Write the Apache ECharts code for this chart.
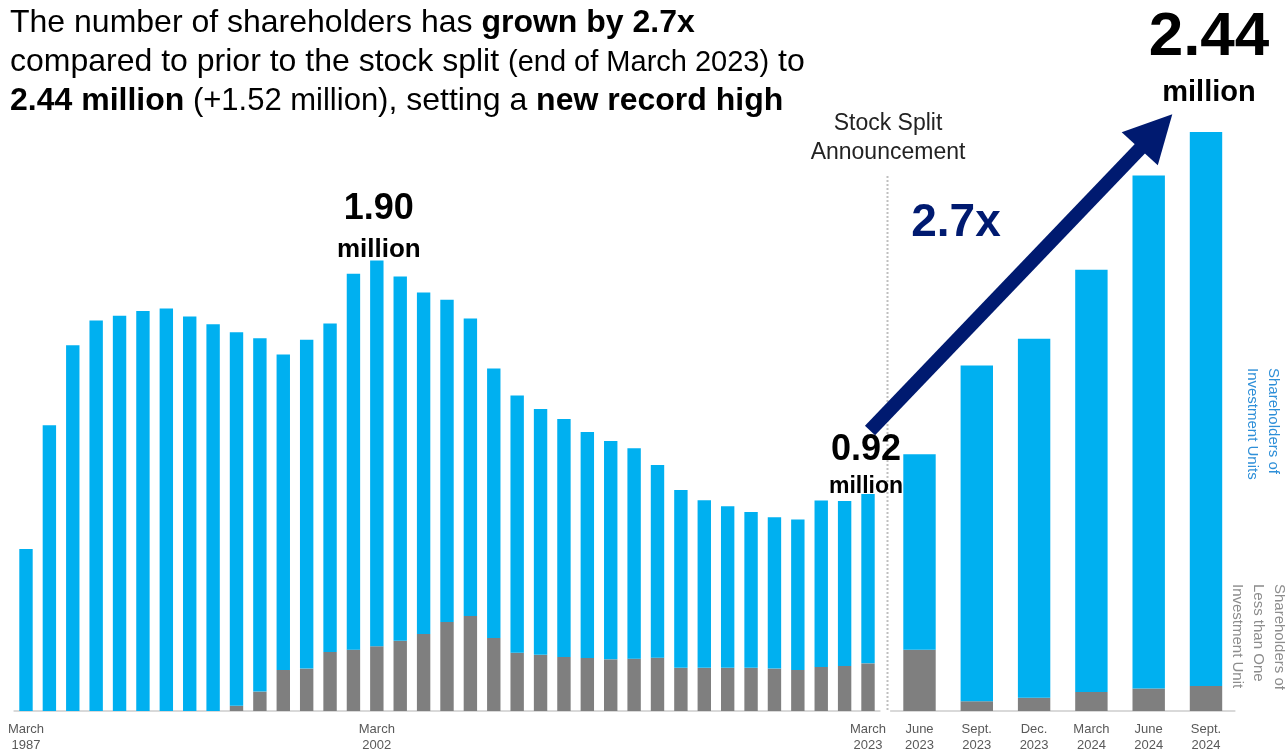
<!DOCTYPE html>
<html>
<head>
<meta charset="utf-8">
<script src="https://cdn.jsdelivr.net/npm/echarts@6/dist/echarts.min.js"></script>
<style>
html,body{margin:0;padding:0;background:#fff;}
#chart{width:1285px;height:753px;}
</style>
</head>
<body>
<div id="chart"></div>
<script>
// ---- Data (millions of shareholders) ----
const annualYears = [1987,1988,1989,1990,1991,1992,1993,1994,1995,1996,1997,1998,1999,2000,2001,2002,2003,2004,2005,2006,2007,2008,2009,2010,2011,2012,2013,2014,2015,2016,2017,2018,2019,2020,2021,2022,2023];
const annualLessThanUnit = [0,0,0,0,0,0,0,0,0,0.022,0.082,0.173,0.179,0.249,0.259,0.273,0.296,0.325,0.376,0.401,0.308,0.246,0.237,0.228,0.224,0.218,0.221,0.225,0.182,0.182,0.182,0.182,0.179,0.173,0.186,0.190,0.201];
const annualInvestmentUnits = [0.684,1.206,1.543,1.648,1.668,1.688,1.699,1.665,1.632,1.576,1.491,1.331,1.388,1.386,1.586,1.628,1.538,1.441,1.360,1.255,1.137,1.085,1.037,1.004,0.953,0.921,0.888,0.813,0.751,0.707,0.682,0.658,0.639,0.635,0.702,0.696,0.715];
const annualLabelIndexes = [0, 15, 36];

const quarterLabels = ['June\n2023','Sept.\n2023','Dec.\n2023','March\n2024','June\n2024','Sept.\n2024'];
const quarterLessThanUnit = [0.258,0.041,0.056,0.080,0.095,0.105];
const quarterInvestmentUnits = [0.825,1.417,1.515,1.782,2.165,2.338];

const titleLines = [
  '{r|The number of shareholders has }{b|grown by 2.7x}',
  '{r|compared to prior to the stock split }{p|(end of March 2023)}{r| to}',
  '{b|2.44 million}{q| (+1.52 million)}{r|, setting a }{b|new record high}'
];

const FONT = '"Liberation Sans", Arial, Helvetica, sans-serif';
const BLUE = '#00b0f0';
const GRAY = '#7f7f7f';
const NAVY = '#001a70';

const chart = echarts.init(document.getElementById('chart'));

function annualBlueData() {
  return annualInvestmentUnits.map((v, i) => {
    if (i === 15) {
      return {value: v, label: {show: true, position: 'top', distance: -4, offset: [2, 0],
        formatter: '{big|1.90}\n{small|million}',
        rich: {big: {fontSize: 36, fontWeight: 'bold', lineHeight: 50, color: '#000', fontFamily: FONT},
               small: {fontSize: 26, fontWeight: 'bold', lineHeight: 30, color: '#000', fontFamily: FONT}}}};
    }
    if (i === 36) {
      return {value: v, label: {show: true, position: 'top', distance: -5, offset: [-2, 0],
        formatter: '{big|0.92}\n{small|million}',
        rich: {big: {fontSize: 36, fontWeight: 'bold', lineHeight: 50, color: '#000', fontFamily: FONT},
               small: {fontSize: 23, fontWeight: 'bold', lineHeight: 24, color: '#000', fontFamily: FONT}}}};
    }
    return v;
  });
}
function quarterBlueData() {
  return quarterInvestmentUnits.map((v, i) => {
    if (i === quarterInvestmentUnits.length - 1) {
      return {value: v, label: {show: true, position: 'top', distance: 22, offset: [3, 0],
        formatter: '{big|2.44}\n{small|million}',
        rich: {big: {fontSize: 62, fontWeight: 'bold', lineHeight: 76, color: '#000', fontFamily: FONT},
               small: {fontSize: 29, fontWeight: 'bold', lineHeight: 34, color: '#000', fontFamily: FONT}}}};
    }
    return v;
  });
}

const axisLabelStyle = {color: '#595959', fontSize: 13, lineHeight: 16, margin: 10, fontFamily: FONT};
const axisLineStyle = {show: true, lineStyle: {color: '#d9d9d9', width: 2}};

const option = {
  animation: false,
  backgroundColor: '#fff',
  title: {
    left: 10, top: 4, padding: 0,
    text: titleLines.join('\n'),
    textStyle: {
      fontFamily: FONT, fontSize: 32, color: '#000', lineHeight: 39,
      rich: {
        r: {fontSize: 32, fontWeight: 'normal', color: '#000', fontFamily: FONT, lineHeight: 39},
        b: {fontSize: 32, fontWeight: 'bold', color: '#000', fontFamily: FONT, lineHeight: 39},
        p: {fontSize: 29, fontWeight: 'normal', color: '#000', fontFamily: FONT, lineHeight: 39},
        q: {fontSize: 31, fontWeight: 'normal', color: '#000', fontFamily: FONT, lineHeight: 39}
      }
    }
  },
  grid: [
    {left: 14.3, width: 865.4, top: 47.5, height: 665},
    {left: 890.85, width: 343.8, top: 47.5, height: 665}
  ],
  xAxis: [
    {type: 'category', gridIndex: 0, data: annualYears,
     axisTick: {show: false}, axisLine: axisLineStyle,
     axisLabel: Object.assign({}, axisLabelStyle, {
       interval: (i) => annualLabelIndexes.indexOf(i) >= 0,
       formatter: (v) => 'March\n' + v})},
    {type: 'category', gridIndex: 1, data: quarterLabels,
     axisTick: {show: false}, axisLine: axisLineStyle,
     axisLabel: Object.assign({}, axisLabelStyle, {interval: 0})}
  ],
  yAxis: [
    {type: 'value', gridIndex: 0, min: 0, max: 2.8, show: false},
    {type: 'value', gridIndex: 1, min: 0, max: 2.8, show: false}
  ],
  series: [
    {type: 'bar', name: 'Shareholders of Less than One Investment Unit', xAxisIndex: 0, yAxisIndex: 0, stack: 'a',
     barWidth: 13.4, itemStyle: {color: GRAY}, data: annualLessThanUnit},
    {type: 'bar', name: 'Shareholders of Investment Units', xAxisIndex: 0, yAxisIndex: 0, stack: 'a',
     barWidth: 13.4, itemStyle: {color: BLUE}, data: annualBlueData()},
    {type: 'bar', name: 'Shareholders of Less than One Investment Unit', xAxisIndex: 1, yAxisIndex: 1, stack: 'b',
     barWidth: 32.4, itemStyle: {color: GRAY}, data: quarterLessThanUnit},
    {type: 'bar', name: 'Shareholders of Investment Units', xAxisIndex: 1, yAxisIndex: 1, stack: 'b',
     barWidth: 32.4, itemStyle: {color: BLUE}, data: quarterBlueData()}
  ],
  graphic: [
    {type: 'line', z: 1, shape: {x1: 887.5, y1: 176, x2: 887.5, y2: 711},
     style: {stroke: '#bfbfbf', lineWidth: 2, lineDash: [2, 2]}},
    {type: 'text', x: 888, y: 138.5, style: {text: 'Stock Split\nAnnouncement', fontSize: 23, lineHeight: 29,
      fontFamily: FONT, fill: '#222', textAlign: 'center', textVerticalAlign: 'middle'}},
    {type: 'line', z: 10, shape: {x1: 870, y1: 430.5, x2: 1143, y2: 145.5},
     style: {stroke: NAVY, lineWidth: 14}},
    {type: 'polygon', z: 10, shape: {points: [[1172.3, 114.3], [1121.7, 132.2], [1157.8, 165.3]]},
     style: {fill: NAVY}},
    {type: 'text', x: 956, y: 223, style: {text: '2.7x', fontSize: 46, fontWeight: 'bold',
      fontFamily: FONT, fill: NAVY, textAlign: 'center', textVerticalAlign: 'middle'}},
    {type: 'text', x: 1284, y: 368, rotation: -Math.PI / 2, style: {text: 'Shareholders of\nInvestment Units',
      fontSize: 15, lineHeight: 21, fontFamily: FONT, fill: '#2e8fd8', textAlign: 'left', textVerticalAlign: 'top'}},
    {type: 'text', x: 1290, y: 584, rotation: -Math.PI / 2, style: {text: 'Shareholders of\nLess than One\nInvestment Unit',
      fontSize: 15, lineHeight: 21, fontFamily: FONT, fill: '#8c8c8c', textAlign: 'left', textVerticalAlign: 'top'}}
  ]
};
chart.setOption(option);
</script>
</body>
</html>
